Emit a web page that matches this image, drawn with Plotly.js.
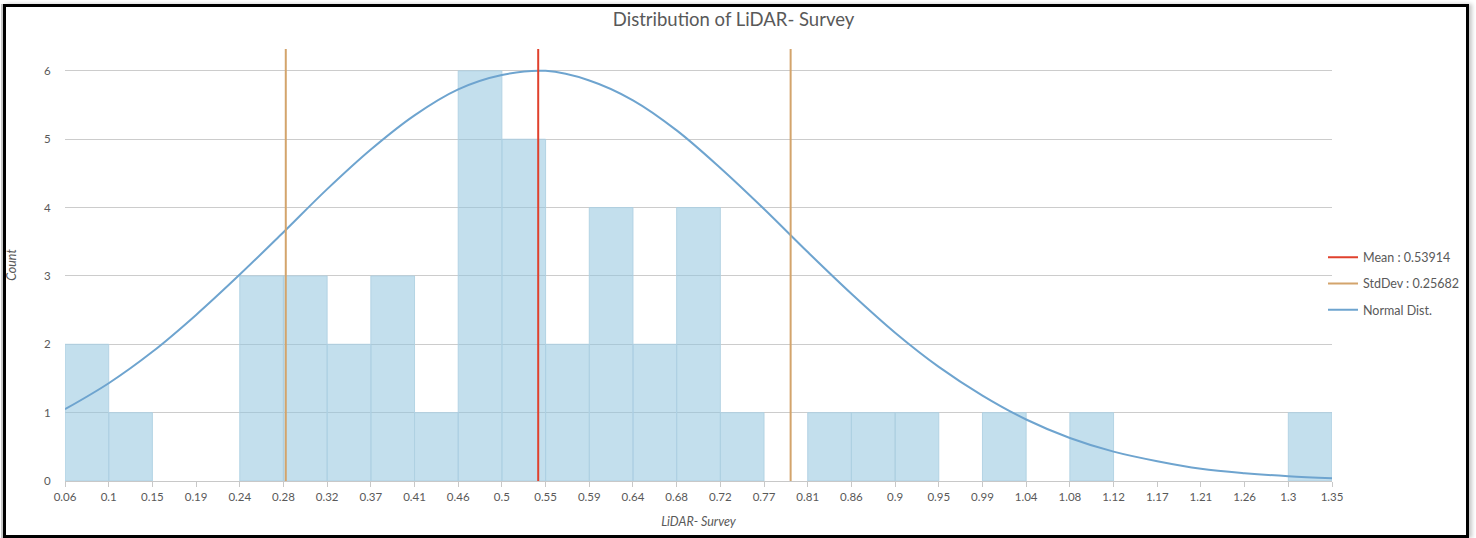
<!DOCTYPE html>
<html>
<head>
<meta charset="utf-8">
<script src="https://cdn.plot.ly/plotly-3.0.1.min.js"></script>
<style>
  html, body { margin: 0; padding: 0; background: #ffffff; }
  #chart { position: absolute; left: 0; top: 0; width: 1476px; height: 538px; }
  #frame { position: absolute; left: 3px; top: 4px; width: 1460px; height: 528px;
           border: 3px solid #000; pointer-events: none;
           box-shadow: -2px 0 0 #c8c8c8, 3px 0 4px #c8c8c8; }
</style>
</head>
<body>
<div id="chart"></div>
<div id="frame"></div>
<script>
// ---- data ----
const binLabels = ['0.06','0.1','0.15','0.19','0.24','0.28','0.32','0.37','0.41','0.46','0.5','0.55',
  '0.59','0.64','0.68','0.72','0.77','0.81','0.86','0.9','0.95','0.99','1.04','1.08','1.12','1.17',
  '1.21','1.26','1.3','1.35'];
const binStart = 0.0577;
const binWidth = 0.04445;
const counts = [2,1,0,0,3,3,2,3,1,6,5,2,4,2,4,1,0,1,1,1,0,1,0,1,0,0,0,0,1];
const normalCurve = [1.05,1.43,1.89,2.43,3.02,3.64,4.27,4.85,5.35,5.73,5.94,6.0,5.86,5.57,5.13,4.58,
  3.98,3.35,2.74,2.17,1.67,1.25,0.90,0.63,0.43,0.29,0.18,0.115,0.07,0.04];
const meanValue = 0.53914;
const stdValue = 0.25682;
const yTop = 6.32;

// ---- derived positions ----
const edges = binLabels.map((_, i) => binStart + i * binWidth);
const centers = counts.map((_, i) => binStart + (i + 0.5) * binWidth);
const outlineWidths = counts.map(c => (c > 0 ? 1 : 0));

const traces = [
  {
    type: 'bar', x: centers, y: counts, width: binWidth, showlegend: false,
    marker: { color: 'rgba(146,196,222,0.55)', line: { color: 'rgba(175,208,226,0.9)', width: outlineWidths } },
    hoverinfo: 'x+y'
  },
  {
    type: 'scatter', mode: 'lines', name: 'Normal Dist.', x: edges, y: normalCurve,
    line: { color: '#6ea4cf', width: 2, shape: 'spline' }, legendrank: 3, legendgroup: 'c'
  },
  {
    type: 'scatter', mode: 'lines', name: 'StdDev : ' + stdValue.toFixed(5),
    x: [meanValue - stdValue, meanValue - stdValue, null, meanValue + stdValue, meanValue + stdValue],
    y: [0, yTop, null, 0, yTop], connectgaps: false,
    line: { color: '#d3a46c', width: 2 }, legendrank: 2, legendgroup: 'b'
  },
  {
    type: 'scatter', mode: 'lines', name: 'Mean : ' + meanValue.toFixed(5),
    x: [meanValue, meanValue], y: [0, yTop],
    line: { color: '#e0412d', width: 2 }, legendrank: 1, legendgroup: 'a'
  }
];

const layout = {
  width: 1476, height: 538,
  margin: { l: 65, r: 144, t: 49, b: 57 },
  paper_bgcolor: '#ffffff', plot_bgcolor: '#ffffff',
  font: { family: 'Lato, "Open Sans", sans-serif', color: '#595959', size: 11.5 },
  bargap: 0,
  title: {
    text: 'Distribution of LiDAR- Survey', font: { size: 18.5, color: '#595959' },
    x: 0.497, xref: 'container', xanchor: 'center', y: 0.963, yref: 'container', yanchor: 'middle'
  },
  xaxis: {
    range: [edges[0], edges[edges.length - 1]],
    tickmode: 'array', tickvals: edges, ticktext: binLabels,
    ticks: 'outside', ticklen: 5, tickcolor: '#c8c8c8',
    showline: true, linecolor: '#c8c8c8', linewidth: 1,
    showgrid: false, zeroline: false,
    title: { text: 'LiDAR- Survey', font: { size: 12.5, style: 'italic', color: '#595959' }, standoff: 15 }
  },
  yaxis: {
    range: [0, yTop], tickvals: [0,1,2,3,4,5,6],
    showgrid: true, gridcolor: '#cccccc', gridwidth: 1,
    zeroline: false, showline: false,
    ticks: 'outside', ticklen: 11, tickcolor: 'rgba(0,0,0,0)',
    title: { text: 'Count', font: { size: 12.5, style: 'italic', color: '#595959' }, standoff: 24 }
  },
  showlegend: true,
  legend: {
    x: 0.9929, xanchor: 'left', y: 0.552, yanchor: 'top',
    traceorder: 'grouped', tracegroupgap: 7, itemwidth: 30,
    font: { size: 12.5, color: '#595959' }, bgcolor: 'rgba(0,0,0,0)'
  }
};

Plotly.newPlot('chart', traces, layout, { displayModeBar: false, staticPlot: true });
</script>
</body>
</html>
